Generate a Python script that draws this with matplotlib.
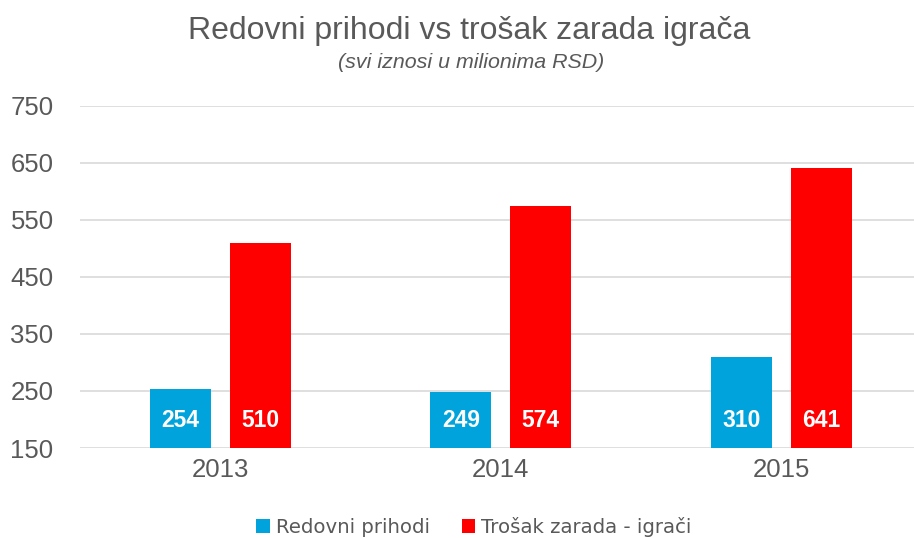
import matplotlib as mpl
mpl.use('Agg')
import matplotlib.pyplot as plt
import numpy as np

# data
years = ['2013', '2014', '2015']
prihodi = [254, 249, 310]
trosak = [510, 574, 641]
seriesLabel = ['Redovni prihodi', 'Trošak zarada - igrači']
yTicks = [150, 250, 350, 450, 550, 650, 750]

textGray = '#595959'
blue = '#00A3DB'
red = '#FF0000'

plt.rcParams['font.family'] = ['Liberation Sans', 'DejaVu Sans']

fig = plt.figure(figsize=(9.14, 5.38), dpi=100)
W, H = 914, 538
# axes in pixel coords -> figure fraction
x0, x1 = 80, 921.5
y0, y1 = 448, 105.7
ax1 = fig.add_axes([x0/W, 1-y0/H, (x1-x0)/W, (y0-y1)/H])

x = np.arange(len(years))
barW = 0.217
off = 0.142
b1 = ax1.bar(x-off, [v-150 for v in prihodi], barW, bottom=150, color=blue, label=seriesLabel[0], zorder=3)
b2 = ax1.bar(x+off, [v-150 for v in trosak], barW, bottom=150, color=red, label=seriesLabel[1], zorder=3)

for i in range(len(years)):
    ax1.annotate(str(prihodi[i]), xy=(x[i]-off, 150), xytext=(0, 20), textcoords='offset points',
                 ha='center', va='center', color='white', fontsize=16.5, fontweight='bold', zorder=4)
    ax1.annotate(str(trosak[i]), xy=(x[i]+off, 150), xytext=(0, 20), textcoords='offset points',
                 ha='center', va='center', color='white', fontsize=16.5, fontweight='bold', zorder=4)

ax1.set_xlim(-0.5, len(years)-0.5)
ax1.set_ylim(150, 750)
ax1.set_yticks(yTicks)
ax1.set_xticks(x)
ax1.set_xticklabels(years)
ax1.grid(axis='y', color='#D9D9D9', linewidth=1.2, zorder=0)
ax1.set_axisbelow(True)
for s in ax1.spines.values():
    s.set_visible(False)
ax1.tick_params(axis='both', length=0, labelsize=18.5, colors=textGray)
ax1.tick_params(axis='y', pad=19)
ax1.tick_params(axis='x', pad=7)

fig.text(469/W, 1-31/H, 'Redovni prihodi vs trošak zarada igrača', ha='center', va='center',
         fontsize=23, color=textGray)
fig.text(471/W, 1-62/H, '(svi iznosi u milionima RSD)', ha='center', va='center',
         fontsize=15.4, style='italic', color=textGray)

leg = fig.legend(handles=[b1, b2], loc='center', bbox_to_anchor=(474/W, 1-527/H), ncol=2, frameon=False,
                 prop={'family': 'DejaVu Sans', 'size': 14.2}, labelcolor=textGray,
                 handlelength=0.7, handleheight=0.7, handletextpad=0.3, columnspacing=1.6)

plt.savefig('out.png', dpi=100)
